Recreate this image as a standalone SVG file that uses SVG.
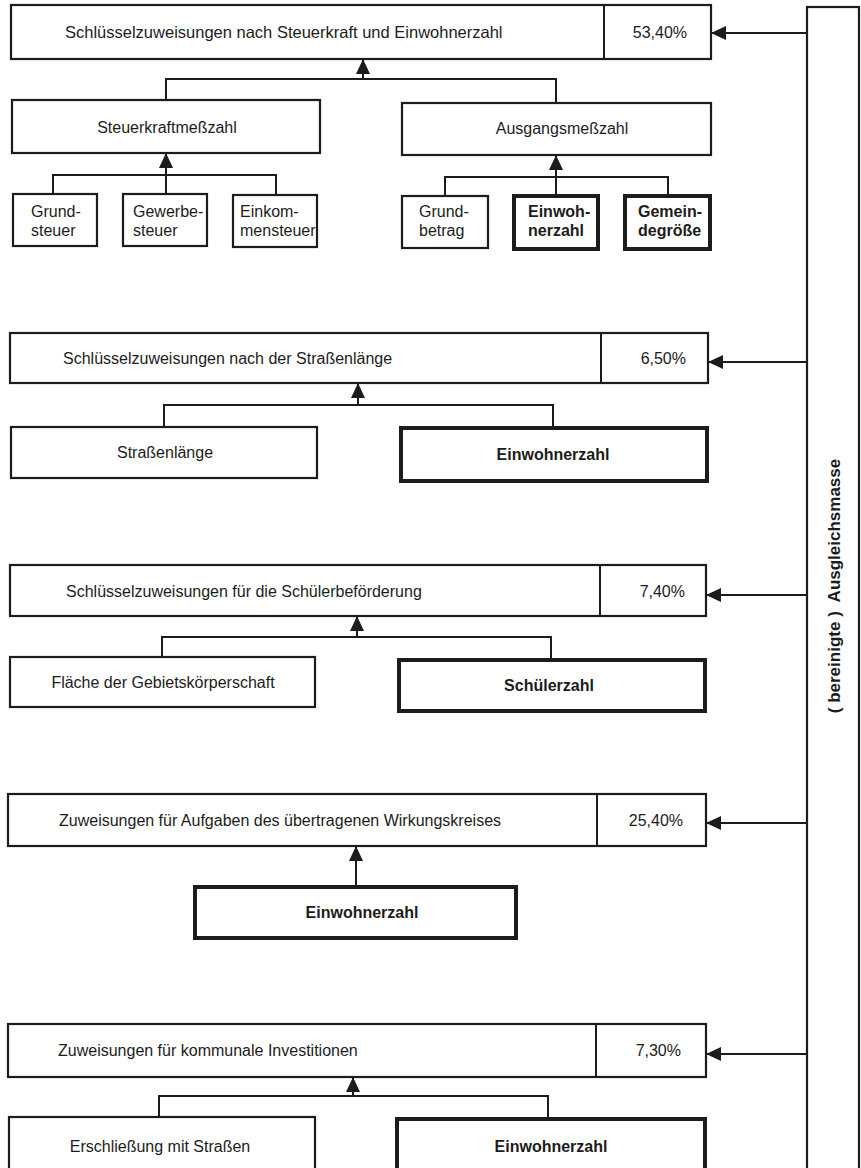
<svg xmlns="http://www.w3.org/2000/svg" width="861" height="1168" viewBox="0 0 861 1168">
<style>
.bx{fill:#fff;stroke:#1c1c1c;stroke-width:2.2}
.bb{fill:#fff;stroke:#1c1c1c;stroke-width:4}
.ln{fill:none;stroke:#1c1c1c;stroke-width:2}
.t{font-family:"Liberation Sans",Arial,sans-serif;font-size:16px;fill:#1c1c1c}
.tb{font-family:"Liberation Sans",Arial,sans-serif;font-size:16px;font-weight:bold;fill:#1c1c1c}
.c{text-anchor:middle}
.e{text-anchor:end}
</style>
<defs>
<marker id="ah" markerUnits="userSpaceOnUse" markerWidth="15" markerHeight="14" refX="15" refY="7" orient="auto"><path d="M0,0 L15,7 L0,14 z" fill="#1c1c1c"/></marker>
</defs>
<rect width="861" height="1168" fill="#fff"/>

<g id="connectors">
<!-- from Ausgleichsmasse -->
<line class="ln" x1="808" y1="33" x2="711" y2="33" marker-end="url(#ah)"/>
<line class="ln" x1="808" y1="362" x2="708" y2="362" marker-end="url(#ah)"/>
<line class="ln" x1="808" y1="595" x2="706" y2="595" marker-end="url(#ah)"/>
<line class="ln" x1="808" y1="823" x2="706" y2="823" marker-end="url(#ah)"/>
<line class="ln" x1="808" y1="1054" x2="706" y2="1054" marker-end="url(#ah)"/>
<!-- section 1 -->
<path class="ln" d="M166,100 V79 H556 V103"/>
<line class="ln" x1="363" y1="79" x2="363" y2="59" marker-end="url(#ah)"/>
<path class="ln" d="M53,194 V175 H276 V195"/>
<line class="ln" x1="166" y1="194" x2="166" y2="153" marker-end="url(#ah)"/>
<path class="ln" d="M445,196 V177 H668 V196"/>
<line class="ln" x1="556" y1="196" x2="556" y2="155" marker-end="url(#ah)"/>
<!-- section 2 -->
<path class="ln" d="M164,427 V405 H553 V428"/>
<line class="ln" x1="358" y1="405" x2="358" y2="383" marker-end="url(#ah)"/>
<!-- section 3 -->
<path class="ln" d="M162,657 V637 H551 V660"/>
<line class="ln" x1="357" y1="637" x2="357" y2="616" marker-end="url(#ah)"/>
<!-- section 4 -->
<line class="ln" x1="356" y1="887" x2="356" y2="846" marker-end="url(#ah)"/>
<!-- section 5 -->
<path class="ln" d="M159,1117 V1096 H548 V1119"/>
<line class="ln" x1="353" y1="1096" x2="353" y2="1077" marker-end="url(#ah)"/>
</g>

<g id="ausgleichsmasse">
<rect class="bx" x="807" y="7" width="52" height="1175"/>
<text class="tb c" font-size="17" xml:space="preserve" transform="translate(840,586) rotate(-90)" style="font-size:17px">( bereinigte )  Ausgleichsmasse</text>
</g>

<g id="s1-top">
<rect class="bx" x="11" y="5" width="700" height="54"/>
<line class="ln" x1="604" y1="5" x2="604" y2="59"/>
<text class="t" x="65" y="38" style="font-size:16.5px">Schlüsselzuweisungen nach Steuerkraft und Einwohnerzahl</text>
<text class="t e" x="687" y="38">53,40%</text>
</g>
<g id="s1-steuerkraft">
<rect class="bx" x="12" y="100" width="308" height="53"/>
<text class="t c" x="167" y="133">Steuerkraftmeßzahl</text>
</g>
<g id="s1-ausgang">
<rect class="bx" x="402" y="103" width="309" height="52"/>
<text class="t c" x="562" y="134">Ausgangsmeßzahl</text>
</g>
<g id="s1-grundsteuer">
<rect class="bx" x="13" y="194" width="84" height="52"/>
<text class="t" x="31" y="217">Grund-</text>
<text class="t" x="31" y="236">steuer</text>
</g>
<g id="s1-gewerbesteuer">
<rect class="bx" x="123" y="194" width="84" height="52"/>
<text class="t" x="133" y="217">Gewerbe-</text>
<text class="t" x="133" y="236">steuer</text>
</g>
<g id="s1-einkommensteuer">
<rect class="bx" x="233" y="195" width="84" height="52"/>
<text class="t" x="240" y="217">Einkom-</text>
<text class="t" x="240" y="236">mensteuer</text>
</g>
<g id="s1-grundbetrag">
<rect class="bx" x="402" y="196" width="86" height="52"/>
<text class="t" x="419" y="217">Grund-</text>
<text class="t" x="419" y="236">betrag</text>
</g>
<g id="s1-einwohnerzahl">
<rect class="bb" x="514" y="196" width="84" height="53"/>
<text class="tb" x="528" y="217">Einwoh-</text>
<text class="tb" x="528" y="236">nerzahl</text>
</g>
<g id="s1-gemeindegroesse">
<rect class="bb" x="625" y="196" width="85" height="53"/>
<text class="tb" x="638" y="217">Gemein-</text>
<text class="tb" x="638" y="236">degröße</text>
</g>

<g id="s2-top">
<rect class="bx" x="10" y="333" width="698" height="50"/>
<line class="ln" x1="601" y1="333" x2="601" y2="383"/>
<text class="t" x="63" y="364">Schlüsselzuweisungen nach der Straßenlänge</text>
<text class="t e" x="686" y="364">6,50%</text>
</g>
<g id="s2-strassenlaenge">
<rect class="bx" x="11" y="427" width="306" height="51"/>
<text class="t c" x="165" y="458">Straßenlänge</text>
</g>
<g id="s2-einwohnerzahl">
<rect class="bb" x="401" y="428" width="306" height="53"/>
<text class="tb c" x="553" y="460">Einwohnerzahl</text>
</g>

<g id="s3-top">
<rect class="bx" x="10" y="565" width="696" height="51"/>
<line class="ln" x1="600" y1="565" x2="600" y2="616"/>
<text class="t" x="66" y="597">Schlüsselzuweisungen für die Schülerbeförderung</text>
<text class="t e" x="685" y="597">7,40%</text>
</g>
<g id="s3-flaeche">
<rect class="bx" x="10" y="657" width="305" height="50"/>
<text class="t c" x="163" y="688">Fläche der Gebietskörperschaft</text>
</g>
<g id="s3-schuelerzahl">
<rect class="bb" x="399" y="660" width="306" height="51"/>
<text class="tb c" x="549" y="691">Schülerzahl</text>
</g>

<g id="s4-top">
<rect class="bx" x="8" y="794" width="698" height="52"/>
<line class="ln" x1="597" y1="794" x2="597" y2="846"/>
<text class="t" x="59" y="826">Zuweisungen für Aufgaben des übertragenen Wirkungskreises</text>
<text class="t e" x="683" y="826">25,40%</text>
</g>
<g id="s4-einwohnerzahl">
<rect class="bb" x="195" y="887" width="321" height="51"/>
<text class="tb c" x="362" y="918">Einwohnerzahl</text>
</g>

<g id="s5-top">
<rect class="bx" x="8" y="1024" width="698" height="53"/>
<line class="ln" x1="596" y1="1024" x2="596" y2="1077"/>
<text class="t" x="58" y="1056">Zuweisungen für kommunale Investitionen</text>
<text class="t e" x="681" y="1056">7,30%</text>
</g>
<g id="s5-erschliessung">
<rect class="bx" x="9" y="1117" width="306" height="70"/>
<text class="t c" x="160" y="1152">Erschließung mit Straßen</text>
</g>
<g id="s5-einwohnerzahl">
<rect class="bb" x="397" y="1119" width="308" height="70"/>
<text class="tb c" x="551" y="1152">Einwohnerzahl</text>
</g>
</svg>
